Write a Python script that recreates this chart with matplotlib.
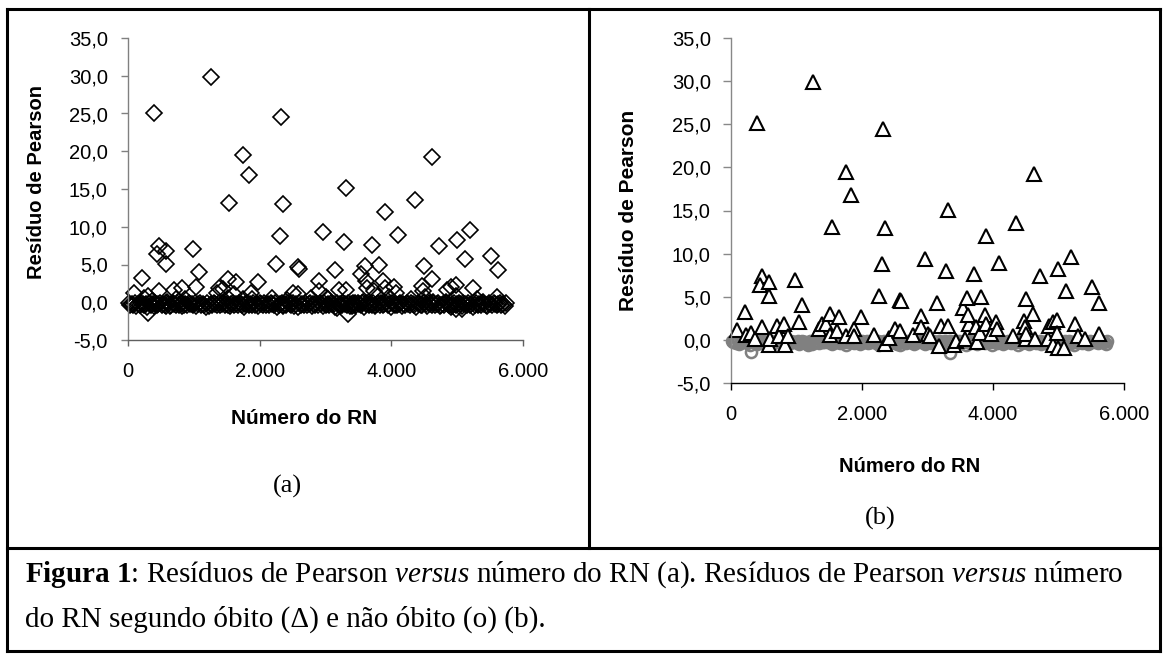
import matplotlib
matplotlib.use("Agg")
import matplotlib.pyplot as plt
from matplotlib.ticker import FuncFormatter, MultipleLocator

plt.rcParams['font.family'] = ['Liberation Sans', 'DejaVu Sans']
plt.rcParams['mathtext.fontset'] = 'custom'
plt.rcParams['mathtext.rm'] = 'Liberation Serif'
plt.rcParams['mathtext.it'] = 'Liberation Serif:italic'
plt.rcParams['mathtext.bf'] = 'Liberation Serif:bold'

# RN number and Pearson residual, deaths (obito)
obito_x = [84, 208, 236, 309, 365, 399, 478, 478, 439, 574,
           574, 574, 590, 703, 731, 815, 827, 872, 984, 1040,
           1085, 1254, 1350, 1389, 1445, 1518, 1518, 1535, 1614, 1648,
           1754, 1754, 1839, 1872, 1884, 1979, 2182, 2255, 2305, 2322,
           2350, 2350, 2418, 2502, 2587, 2603, 2587, 2784, 2907, 2896,
           2963, 3008, 3036, 3149, 3177, 3205, 3278, 3318, 3318, 3402,
           3441, 3542, 3599, 3627, 3616, 3571, 3711, 3739, 3751, 3796,
           3812, 3880, 3897, 3897, 3964, 4048, 4065, 4094, 4302, 4358,
           4470, 4487, 4498, 4498, 4510, 4611, 4622, 4639, 4723, 4836,
           4853, 4909, 4920, 4976, 4976, 4993, 4988, 5078, 5117, 5190,
           5246, 5302, 5398, 5510, 5623, 5612]
obito_y = [1.2, 3.25, 0.6, 0.85, 0.1, 25.1, 1.45, 7.4, 6.4, 6.75,
           5.1, -0.55, 0.05, 1.65, 0.45, 1.85, -0.55, 0.45, 7.0, 2.05,
           4.05, 29.9, 1.25, 1.85, 1.8, 3.05, 0.6, 13.1, 1.05, 2.65,
           19.5, 0.45, 16.8, 1.25, 0.45, 2.65, 0.6, 5.1, 8.8, 24.5,
           13.0, -0.45, 0.25, 1.25, 4.65, 4.45, 1.05, 0.6, 2.75, 1.45,
           9.35, 0.65, 0.45, 4.3, -0.75, 1.65, 8.0, 15.1, 1.65, -0.55,
           -0.15, 3.7, 4.85, 1.85, 2.85, 0.05, 7.6, 1.45, -0.3, 0.85,
           4.95, 2.85, 12.0, 1.85, 0.65, 2.05, 1.25, 8.9, 0.45, 13.5,
           2.15, 1.45, 4.75, 0.05, 0.65, 3.05, 19.2, 0.05, 7.4, 0.05,
           1.65, 2.05, -0.55, 2.25, 0.85, 8.2, -0.95, -0.95, 5.7, 9.6,
           1.85, 0.45, 0.05, 6.15, 4.3, 0.65]

# non-deaths (nao obito): dense band just below zero
nao_x = [8, 31, 55, 80, 103, 127, 152, 175, 199, 224,
         247, 271, 296, 319, 343, 368, 391, 415, 440, 463,
         487, 512, 535, 559, 584, 607, 631, 656, 679, 703,
         728, 751, 775, 800, 823, 847, 872, 895, 919, 944,
         967, 991, 1016, 1039, 1063, 1088, 1111, 1135, 1160, 1183,
         1207, 1232, 1255, 1279, 1304, 1327, 1351, 1376, 1399, 1423,
         1448, 1471, 1495, 1520, 1543, 1567, 1592, 1615, 1639, 1664,
         1687, 1711, 1736, 1759, 1783, 1808, 1831, 1855, 1880, 1903,
         1927, 1952, 1975, 1999, 2024, 2047, 2071, 2096, 2119, 2143,
         2168, 2191, 2215, 2240, 2263, 2287, 2312, 2335, 2359, 2384,
         2407, 2431, 2456, 2479, 2503, 2528, 2551, 2575, 2600, 2623,
         2647, 2672, 2695, 2719, 2744, 2767, 2791, 2816, 2839, 2863,
         2888, 2911, 2935, 2960, 2983, 3007, 3032, 3055, 3079, 3104,
         3127, 3151, 3176, 3199, 3223, 3248, 3271, 3295, 3320, 3343,
         3367, 3392, 3415, 3439, 3464, 3487, 3511, 3536, 3559, 3583,
         3608, 3631, 3655, 3680, 3703, 3727, 3752, 3775, 3799, 3824,
         3847, 3871, 3896, 3919, 3943, 3968, 3991, 4015, 4040, 4063,
         4087, 4112, 4135, 4159, 4184, 4207, 4231, 4256, 4279, 4303,
         4328, 4351, 4375, 4400, 4423, 4447, 4472, 4495, 4519, 4544,
         4567, 4591, 4616, 4639, 4663, 4688, 4711, 4735, 4760, 4783,
         4807, 4832, 4855, 4879, 4904, 4927, 4951, 4976, 4999, 5023,
         5048, 5071, 5095, 5120, 5143, 5167, 5192, 5215, 5239, 5264,
         5287, 5311, 5336, 5359, 5383, 5408, 5431, 5455, 5480, 5503,
         5527, 5552, 5575, 5599, 5624, 5647, 5671, 5696, 5719, 5743,
         300, 3345]
nao_y = [-0.1, -0.3, -0.2, -0.4, -0.1, -0.5, -0.2, -0.3, -0.1, -0.2,
         -0.4, -0.2, -0.6, -0.1, -0.3, -0.2, -0.5, -0.1, -0.3, -0.2,
         -0.1, -0.4, -0.2, -0.3, -0.1, -0.2, -0.5, -0.3, -0.1, -0.2,
         -0.3, -0.1, -0.4, -0.2, -0.1, -0.3, -0.2, -0.4, -0.1, -0.2,
         -0.2, -0.3, -0.1, -0.5, -0.2, -0.1, -0.3, -0.2, -0.4, -0.6,
         -0.1, -0.5, -0.2, -0.3, -0.1, -0.2, -0.4, -0.1, -0.3, -0.2,
         -0.1, -0.3, -0.2, -0.4, -0.5, -0.2, -0.1, -0.3, -0.2, -0.4,
         -0.1, -0.2, -0.3, -0.6, -0.2, -0.1, -0.3, -0.2, -0.4, -0.1,
         -0.3, -0.2, -0.5, -0.1, -0.2, -0.3, -0.1, -0.4, -0.2, -0.3,
         -0.1, -0.2, -0.4, -0.1, -0.6, -0.3, -0.2, -0.1, -0.3, -0.2,
         -0.4, -0.1, -0.2, -0.3, -0.1, -0.5, -0.2, -0.6, -0.1, -0.3,
         -0.2, -0.4, -0.1, -0.3, -0.2, -0.1, -0.5, -0.2, -0.3, -0.1,
         -0.3, -0.1, -0.2, -0.5, -0.1, -0.3, -0.2, -0.4, -0.1, -0.2,
         -0.2, -0.6, -0.1, -0.3, -0.2, -0.4, -0.1, -0.2, -0.3, -0.1,
         -0.5, -0.2, -0.1, -0.3, -0.4, -0.1, -0.2, -0.3, -0.1, -0.6,
         -0.2, -0.1, -0.4, -0.2, -0.3, -0.1, -0.5, -0.2, -0.1, -0.3,
         -0.1, -0.4, -0.2, -0.1, -0.3, -0.2, -0.6, -0.1, -0.2, -0.4,
         -0.3, -0.2, -0.1, -0.5, -0.2, -0.3, -0.1, -0.2, -0.4, -0.1,
         -0.2, -0.3, -0.6, -0.1, -0.2, -0.4, -0.3, -0.1, -0.2, -0.5,
         -0.1, -0.2, -0.3, -0.1, -0.4, -0.2, -0.1, -0.5, -0.3, -0.2,
         -0.4, -0.1, -0.2, -0.3, -0.6, -0.2, -0.1, -0.3, -0.2, -0.1,
         -0.2, -0.5, -0.1, -0.2, -0.3, -0.1, -0.4, -0.2, -0.6, -0.3,
         -0.1, -0.3, -0.2, -0.4, -0.1, -0.2, -0.3, -0.5, -0.1, -0.2,
         -0.3, -0.1, -0.2, -0.4, -0.2, -0.1, -0.3, -0.2, -0.5, -0.1,
         -1.4, -1.5]

x_ticks = [0, 2000, 4000, 6000]

W, H = 1167, 660
fig = plt.figure(figsize=(W / 100, H / 100), dpi=100)


def fx(px):
    return px / W


def fy(py):
    return 1 - py / H


def style_axes(ax, yc, xc, ylen, xlen, ypad, xpad):
    ax.set_xlim(0, 6000)
    ax.set_ylim(-5, 35)
    ax.yaxis.set_major_locator(MultipleLocator(5))
    ax.set_xticks(x_ticks)
    ax.yaxis.set_major_formatter(FuncFormatter(lambda v, p: f"{v:.1f}".replace('.', ',')))
    ax.xaxis.set_major_formatter(FuncFormatter(lambda v, p: f"{int(v):,}".replace(',', '.')))
    ax.spines['top'].set_visible(False)
    ax.spines['right'].set_visible(False)
    ax.spines['left'].set_color(yc)
    ax.spines['bottom'].set_color(xc)
    ax.spines['left'].set_linewidth(1.0)
    ax.spines['bottom'].set_linewidth(1.0)
    ax.tick_params(axis='y', direction='out', length=ylen, width=1.0, color=yc,
                   labelsize=14.5, pad=ypad)
    ax.tick_params(axis='x', direction='out', length=xlen, width=1.0, color=xc,
                   labelsize=14.5, pad=xpad)


# panel (a)
ax1 = fig.add_axes([fx(128), fy(340), fx(523 - 128), (340 - 38) / H])
ax1.plot(nao_x + obito_x, nao_y + obito_y, linestyle='none', marker='D',
         markersize=7.8, markerfacecolor='none', markeredgecolor='black',
         markeredgewidth=1.2, clip_on=False)
style_axes(ax1, '#808080', '#606060', 5, 4.5, 9.5, 11)

# panel (b)
ax2 = fig.add_axes([fx(731), fy(383), fx(1124 - 731), (383 - 38) / H])
ax2.plot(nao_x, nao_y, linestyle='none', marker='o', markersize=8,
         markerfacecolor='none', markeredgecolor='#808080',
         markeredgewidth=1.8, clip_on=False)
ax2.plot(obito_x, obito_y, linestyle='none', marker='^', markersize=10,
         markerfacecolor='white', markeredgecolor='black',
         markeredgewidth=1.5, clip_on=False)
style_axes(ax2, '#888888', 'black', 6, 5, 8.5, 11)

# axis titles
fig.text(fx(37), fy(182), 'Resíduo de Pearson', rotation=90, ha='center',
         va='center', fontsize=14.5, fontweight='bold')
fig.text(fx(304), fy(419), 'Número do RN', ha='center', va='center',
         fontsize=15, fontweight='bold')
fig.text(fx(629), fy(210), 'Resíduo de Pearson', rotation=90, ha='center',
         va='center', fontsize=15, fontweight='bold')
fig.text(fx(910), fy(466), 'Número do RN', ha='center', va='center',
         fontsize=14.5, fontweight='bold')

fig.text(fx(287), fy(486), '(a)', ha='center', va='center', fontsize=19,
         family='Liberation Serif')
fig.text(fx(880), fy(518), '(b)', ha='center', va='center', fontsize=19,
         family='Liberation Serif')

# caption
cap1 = (r"$\mathbf{Figura\ 1}$: Resíduos de Pearson $\mathit{versus}$ número do RN (a). "
        r"Resíduos de Pearson $\mathit{versus}$ número")
cap2 = "do RN segundo óbito (Δ) e não óbito (o) (b)."
fig.text(fx(25), fy(582), cap1, ha='left', va='baseline', fontsize=21,
         family='Liberation Serif')
fig.text(fx(25), fy(627), cap2, ha='left', va='baseline', fontsize=21,
         family='Liberation Serif')

# table borders
lw = 2.2
left, right, top, bottom = 7, 1160, 9, 651
for (x0, y0, x1, y1) in [(left, top, right, top), (left, bottom, right, bottom),
                         (left, top, left, bottom), (right, top, right, bottom),
                         (left, 548, right, 548), (589, top, 589, 548)]:
    fig.add_artist(plt.Line2D([fx(x0), fx(x1)], [fy(y0), fy(y1)], color='black',
                              linewidth=lw, transform=fig.transFigure,
                              solid_capstyle='projecting'))

fig.savefig('out.png', dpi=100)
